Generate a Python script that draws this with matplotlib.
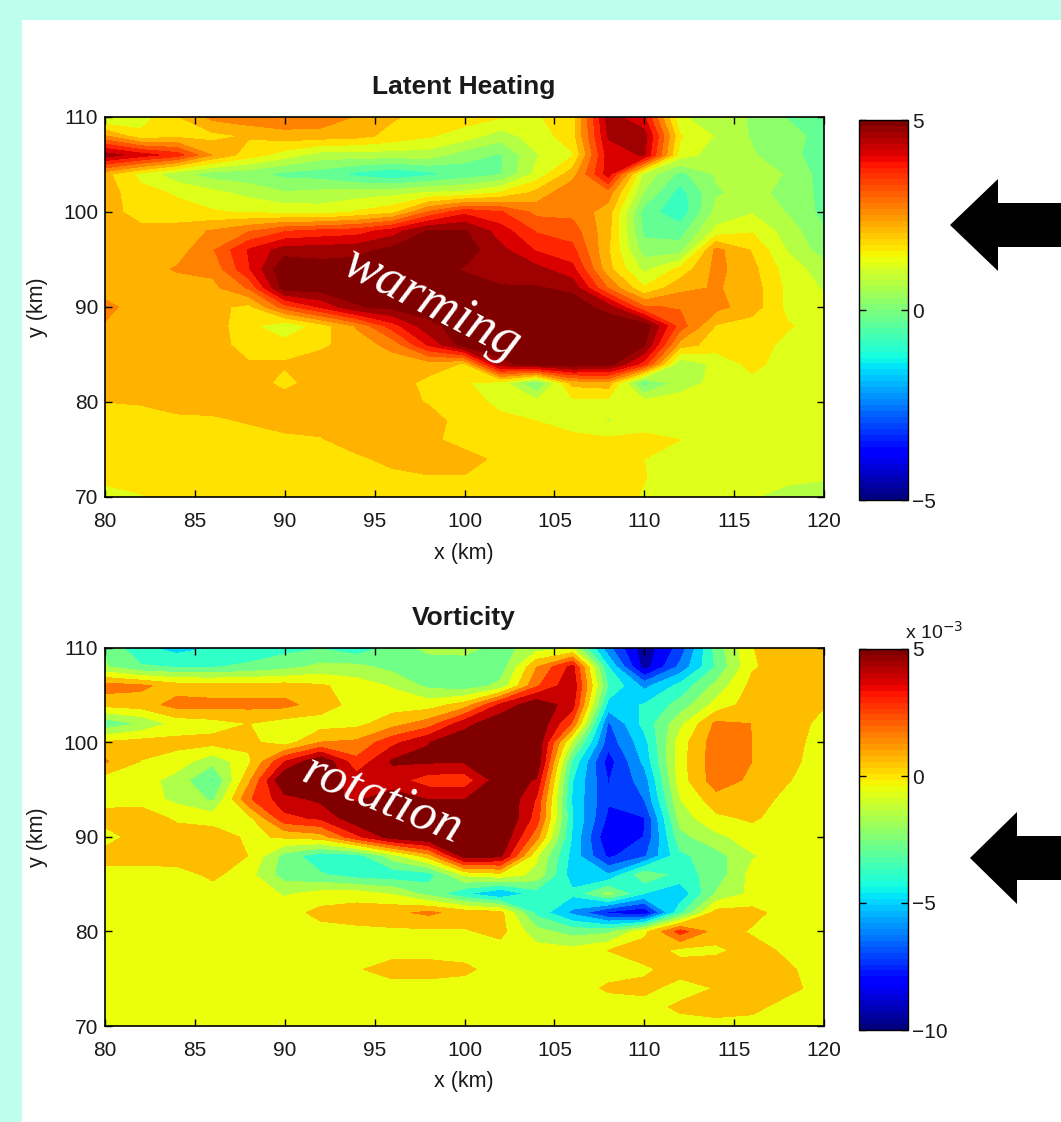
import matplotlib
matplotlib.use("Agg")
import matplotlib.pyplot as plt
import numpy as np
from matplotlib.cm import ScalarMappable
from matplotlib.colors import Normalize
from matplotlib.patches import Polygon, Rectangle

plt.rcParams["font.family"] = ["Liberation Sans", "DejaVu Sans"]

W, H = 1061, 1122

x_km = [80, 82, 84, 86, 88, 90, 92, 94, 96, 98, 100, 102, 104, 106, 108, 110, 112, 114, 116, 118, 120]
y_km = [110, 108, 106, 104, 102, 100, 98, 96, 94, 92, 90, 88, 86, 84, 82, 80, 78, 76, 74, 72, 70]

# rows run from y=110 down to y=70
heating = [
    [0.6, 1.0, 1.7, 2.4, 2.6, 2.7, 2.6, 2.2, 1.8, 1.6, 1.5, 1.3, 1.2, 1.5, 4.5, 3.8, 0.8, 0.5, 0.2, -0.3, -0.5],
    [2.3, 1.4, 1.6, 1.6, 1.8, 2.0, 2.0, 1.9, 1.6, 1.3, 1.0, 0.5, 1.0, 1.5, 4.3, 4.5, 1.3, 0.7, 0.2, 0.0, -0.5],
    [4.5, 4.0, 3.5, 2.2, 1.5, 1.0, 0.5, 0.5, 0.5, 0.5, 0.0, -0.3, 0.7, 1.2, 4.0, 4.3, 1.0, 0.5, 0.3, -0.1, -0.5],
    [1.9, 1.1, 0.4, 0.0, -0.1, -0.4, -0.5, -0.9, -1.2, -0.9, -0.6, -0.3, 0.9, 2.0, 4.0, 0.6, -0.4, 0.3, 0.5, 0.2, -0.5],
    [2.0, 1.4, 1.2, 0.9, 0.6, 0.3, 0.4, 0.5, 0.6, 0.8, 0.9, 1.3, 1.9, 2.7, 2.5, 0.2, -1.0, 0.2, 0.4, 0.1, -0.4],
    [2.0, 1.5, 1.4, 1.3, 1.2, 1.1, 1.0, 1.3, 1.6, 2.8, 3.6, 3.3, 2.6, 2.6, 2.0, -0.5, -1.1, 0.4, 0.7, 0.2, -0.4],
    [2.0, 1.9, 2.0, 2.3, 2.7, 3.2, 3.4, 3.5, 4.0, 4.8, 4.8, 4.0, 3.2, 3.0, 1.9, -0.4, -0.5, 0.9, 1.2, 0.5, -0.2],
    [2.0, 2.0, 2.0, 2.7, 3.8, 4.5, 4.5, 4.6, 4.9, 5.0, 5.0, 4.4, 3.7, 3.4, 1.8, 0.0, 0.0, 2.4, 1.7, 0.7, 0.0],
    [2.0, 2.0, 2.3, 2.4, 3.7, 5.2, 5.0, 5.0, 5.0, 5.0, 4.7, 4.5, 4.4, 3.9, 1.9, 0.6, 1.4, 2.4, 1.9, 1.0, 0.5],
    [2.0, 2.0, 2.0, 2.1, 2.8, 5.0, 5.0, 5.0, 5.0, 5.0, 5.0, 4.8, 4.8, 4.6, 2.7, 1.3, 2.1, 2.3, 2.0, 1.1, 0.7],
    [2.4, 2.0, 2.0, 1.9, 1.6, 3.0, 3.8, 4.7, 4.9, 5.0, 5.0, 5.0, 5.2, 5.1, 4.5, 2.8, 2.7, 2.4, 2.0, 1.1, 0.9],
    [2.2, 2.0, 2.0, 2.0, 1.4, 0.8, 1.5, 2.3, 3.5, 4.6, 5.0, 5.2, 5.2, 5.2, 5.2, 5.1, 3.0, 1.7, 1.5, 1.3, 1.0],
    [2.0, 2.0, 2.0, 2.0, 1.5, 1.5, 1.65, 2.0, 2.4, 3.8, 5.0, 5.0, 5.2, 5.2, 5.2, 4.8, 2.0, 1.5, 1.5, 1.1, 1.0],
    [2.0, 2.0, 2.0, 2.0, 1.8, 1.8, 2.0, 2.0, 2.0, 2.0, 1.7, 4.6, 5.0, 5.1, 5.0, 3.5, 0.3, 0.9, 1.4, 1.0, 1.0],
    [2.0, 2.0, 2.0, 2.0, 2.0, 1.6, 2.0, 2.0, 2.0, 1.6, 1.3, 1.0, -0.3, 1.9, 2.0, -0.5, 0.5, 0.9, 1.1, 1.0, 1.0],
    [1.75, 1.8, 2.0, 2.0, 2.0, 2.0, 2.0, 2.0, 2.0, 1.7, 1.5, 1.1, 0.9, 1.1, 1.1, 0.9, 1.0, 1.0, 1.0, 1.0, 1.0],
    [1.5, 1.5, 1.6, 1.65, 1.8, 2.0, 2.0, 2.0, 2.0, 2.0, 1.5, 1.4, 1.25, 1.1, 0.7, 1.0, 1.0, 1.0, 1.0, 1.0, 1.0],
    [1.5, 1.5, 1.5, 1.5, 1.5, 1.6, 1.7, 2.0, 2.0, 1.9, 1.5, 1.5, 1.4, 1.35, 1.35, 1.4, 1.25, 1.0, 1.0, 1.0, 1.0],
    [1.5, 1.5, 1.5, 1.5, 1.5, 1.5, 1.5, 1.65, 1.9, 2.0, 2.0, 1.6, 1.5, 1.5, 1.4, 1.25, 1.1, 1.0, 1.0, 1.0, 1.0],
    [1.4, 1.5, 1.5, 1.5, 1.5, 1.5, 1.5, 1.5, 1.6, 1.7, 1.7, 1.5, 1.5, 1.5, 1.4, 1.27, 1.0, 1.0, 1.0, 0.9, 0.8],
    [1.0, 1.2, 1.5, 1.5, 1.5, 1.5, 1.5, 1.5, 1.5, 1.5, 1.5, 1.5, 1.5, 1.5, 1.5, 1.2, 1.0, 1.0, 0.8, 0.5, 0.4],
]

# same layout, plotted in units of 1e-3
vorticity = [
    [-2.5, -4.3, -5.0, -4.5, -4.2, -3.8, -3.5, -4.2, -3.0, -2.0, -1.9, -2.8, -1.7, -1.3, -6.5, -9.8, -7.5, -3.0, -0.1, 0.5, 0.5],
    [-2.2, -3.3, -3.5, -3.5, -3.2, -2.7, -2.0, -2.0, -2.7, -3.0, -3.0, -3.0, 1.0, 3.7, -4.5, -9.6, -6.5, -3.3, -0.2, 0.5, 0.5],
    [1.6, 1.3, 0.5, 0.4, 0.4, 0.4, 0.1, -0.6, -1.3, -2.6, -3.0, -2.0, 2.0, 4.2, -3.5, -6.0, -4.2, -2.0, 0.3, 0.5, 0.5],
    [0.3, 0.5, 1.5, 1.4, 1.4, 1.4, 0.5, -0.5, -0.6, -0.6, 0.4, 3.5, 5.3, 3.8, -5.0, -4.5, -3.0, -0.8, 0.5, 0.5, 0.0],
    [-3.2, -2.2, -0.8, -0.5, -0.05, -0.6, -0.6, -0.4, 0.6, 1.6, 4.0, 5.4, 5.6, 2.0, -7.0, -4.2, -1.5, 1.3, 1.05, 0.5, -0.4],
    [0.1, 0.4, 0.3, 0.3, 0.2, -0.6, 1.1, 1.3, 3.0, 4.4, 5.3, 6.0, 5.5, -1.5, -7.5, -5.0, -0.6, 1.7, 1.06, 0.5, -0.7],
    [1.2, -0.1, -0.6, -2.0, -0.3, 3.3, 5.5, 2.5, 4.6, 4.6, 4.6, 5.6, 5.5, -3.7, -8.5, -5.4, -0.5, 1.7, 1.06, 0.3, -0.7],
    [-0.6, -0.6, -1.7, -3.6, 0.8, 5.7, 5.2, 3.9, 3.8, 2.7, 2.6, 5.2, 4.3, -4.5, -8.0, -6.3, -0.6, 1.7, 0.8, 0.0, -0.7],
    [-0.6, -0.6, -1.5, -2.5, 2.0, 4.0, 4.7, 4.3, 5.0, 4.4, 4.4, 5.8, 3.2, -4.7, -7.8, -6.8, -1.2, 0.6, 0.5, -0.4, -0.7],
    [0.5, 0.7, -0.3, -0.6, -0.4, 3.0, 3.5, 5.3, 5.5, 5.6, 5.5, 6.0, 2.8, -4.5, -8.2, -8.0, -1.8, -0.3, 0.1, -0.6, -0.7],
    [-0.6, 0.5, 0.6, 0.6, -0.3, 0.1, 0.5, 3.0, 5.0, 5.6, 5.7, 5.6, 1.5, -4.7, -9.0, -7.9, -2.7, -1.5, -0.6, -0.6, -0.6],
    [0.5, 0.5, 0.6, 0.9, -0.1, -2.8, -4.2, -4.0, -1.7, 0.5, 5.0, 4.7, -1.0, -5.0, -8.2, -7.0, -3.7, -2.8, -1.3, -0.6, -0.6],
    [-0.6, -0.6, -0.6, 0.2, -0.8, -2.9, -3.3, -4.0, -4.2, -4.0, -1.0, -0.5, -1.5, -5.2, -5.6, -2.6, -3.9, -3.0, -0.8, -0.6, -0.6],
    [-0.6, -0.6, -0.6, -0.6, -0.6, -1.3, -0.8, -0.7, -1.3, -2.7, -4.4, -5.8, -4.0, -4.3, -2.0, -4.6, -5.4, -2.2, -0.9, -0.6, -0.6],
    [-0.6, -0.6, -0.6, -0.6, -0.6, -0.6, 0.3, 0.6, 0.8, 1.3, 0.6, 0.3, -3.8, -6.0, -8.2, -9.0, -3.7, 0.4, 0.3, -0.6, -0.6],
    [-0.6, -0.6, -0.6, -0.6, -0.6, -0.6, -0.5, -0.4, -0.3, -0.3, -0.2, 0.3, -1.9, -2.8, -2.6, -0.4, 2.7, 0.5, -0.2, -0.6, -0.6],
    [-0.6, -0.6, -0.6, -0.6, -0.6, -0.6, -0.6, -0.6, -0.6, -0.6, -0.6, -0.6, -0.7, -0.8, -0.05, 0.6, -0.4, -0.3, 0.4, -0.3, -0.6],
    [-0.6, -0.6, -0.6, -0.6, -0.6, -0.6, -0.6, -0.2, 0.5, 0.5, 0.2, -0.6, -0.6, -0.6, -0.5, -0.3, 0.5, 0.6, 0.6, 0.1, -0.6],
    [-0.6, -0.6, -0.6, -0.6, -0.6, -0.6, -0.6, -0.6, -0.6, -0.6, -0.6, -0.6, -0.6, -0.6, 0.1, 0.3, -0.6, 0.0, 0.7, 0.3, -0.6],
    [-0.6, -0.6, -0.6, -0.6, -0.6, -0.6, -0.6, -0.6, -0.6, -0.6, -0.6, -0.6, -0.6, -0.6, -0.6, -0.6, 0.2, 0.6, 0.3, -0.6, -0.6],
    [-0.6, -0.6, -0.6, -0.6, -0.6, -0.6, -0.6, -0.6, -0.6, -0.6, -0.6, -0.6, -0.6, -0.6, -0.6, -0.6, -0.6, -0.6, -0.6, -0.6, -0.6],
]

heating_levels = np.arange(-5.25, 6.0, 0.5)
vorticity_levels = -9.625 - 0.5625 + 1.125 * np.arange(0, 16)

text_color = "#1a1a1a"


def px_axes(left, top, right, bottom):
    return fig.add_axes([left / W, 1 - bottom / H, (right - left) / W, (bottom - top) / H])


def px_text(x, y, s, **kw):
    return fig.text(x / W, 1 - y / H, s, ha=kw.pop("ha", "center"), va=kw.pop("va", "center"), **kw)


def field_panel(top, bottom, z, levels, vmin, vmax, title):
    ax = px_axes(105, top, 824, bottom)
    norm = Normalize(vmin, vmax)
    ax.contourf(x_km, y_km, np.array(z), levels=levels, cmap="jet", norm=norm, extend="both")
    ax.set_xlim(80, 120)
    ax.set_ylim(70, 110)
    ax.set_xticks(range(80, 121, 5))
    ax.set_yticks(range(70, 111, 10))
    ax.tick_params(direction="in", top=True, right=True, labelsize=15, length=5, width=1,
                   labelcolor=text_color)
    ax.tick_params(axis="x", pad=11)
    ax.tick_params(axis="y", pad=5)
    for s in ax.spines.values():
        s.set_linewidth(1.2)
    px_text(463.5, bottom + 56, "x (km)", fontsize=15.5, color=text_color)
    px_text(38, (top + bottom) / 2 + 0.5, "y (km)", fontsize=15.5, color=text_color, rotation=90)
    px_text(464, top - 30, title, fontsize=19, fontweight="bold", color=text_color)
    return ax


def colorbar(top, bottom, vmin, vmax, ticks):
    cax = px_axes(859, top, 908, bottom)
    sm = ScalarMappable(Normalize(vmin, vmax), plt.get_cmap("jet", 64))
    cb = fig.colorbar(sm, cax=cax)
    cb.set_ticks(ticks)
    cb.ax.tick_params(direction="in", left=True, right=True, labelsize=15, length=5, width=1, pad=3,
                      labelcolor=text_color)
    cb.outline.set_linewidth(1)
    return cb


fig = plt.figure(figsize=(W / 100, H / 100), dpi=100, facecolor="#bdfeed")
fig.add_artist(Rectangle((22 / W, 0), 1 - 22 / W, 1 - 20 / H, transform=fig.transFigure,
                         facecolor="white", edgecolor="none", zorder=-1))

field_panel(117, 497, heating, heating_levels, -5.2, 4.8, "Latent Heating")
colorbar(120, 500, -5, 5, [-5, 0, 5])

field_panel(648, 1026, vorticity, vorticity_levels, -10.15, 4.85, "Vorticity")
colorbar(649, 1030, -10, 5, [-10, -5, 0, 5])
px_text(905, 632, r"x 10$^{-3}$", fontsize=14, color=text_color, ha="left", math_fontfamily="dejavusans")

px_text(432, 304, "warming", color="white", fontsize=39, style="italic",
        family="Liberation Serif", rotation=-27, rotation_mode="anchor")
px_text(383, 800, "rotation", color="white", fontsize=38, style="italic",
        family="Liberation Serif", rotation=-22, rotation_mode="anchor")

# the two black arrows pointing at the panels
for tip_x, tip_y, head_x, half_head, half_shaft in [(950, 225, 998, 46, 22), (970, 858, 1017, 46, 22)]:
    pts = [(tip_x, tip_y), (head_x, tip_y - half_head), (head_x, tip_y - half_shaft), (W, tip_y - half_shaft),
           (W, tip_y + half_shaft), (head_x, tip_y + half_shaft), (head_x, tip_y + half_head)]
    fig.add_artist(Polygon([(a / W, 1 - b / H) for a, b in pts], transform=fig.transFigure,
                           facecolor="black", edgecolor="none"))

fig.savefig("out.png", dpi=100, facecolor=fig.get_facecolor())
